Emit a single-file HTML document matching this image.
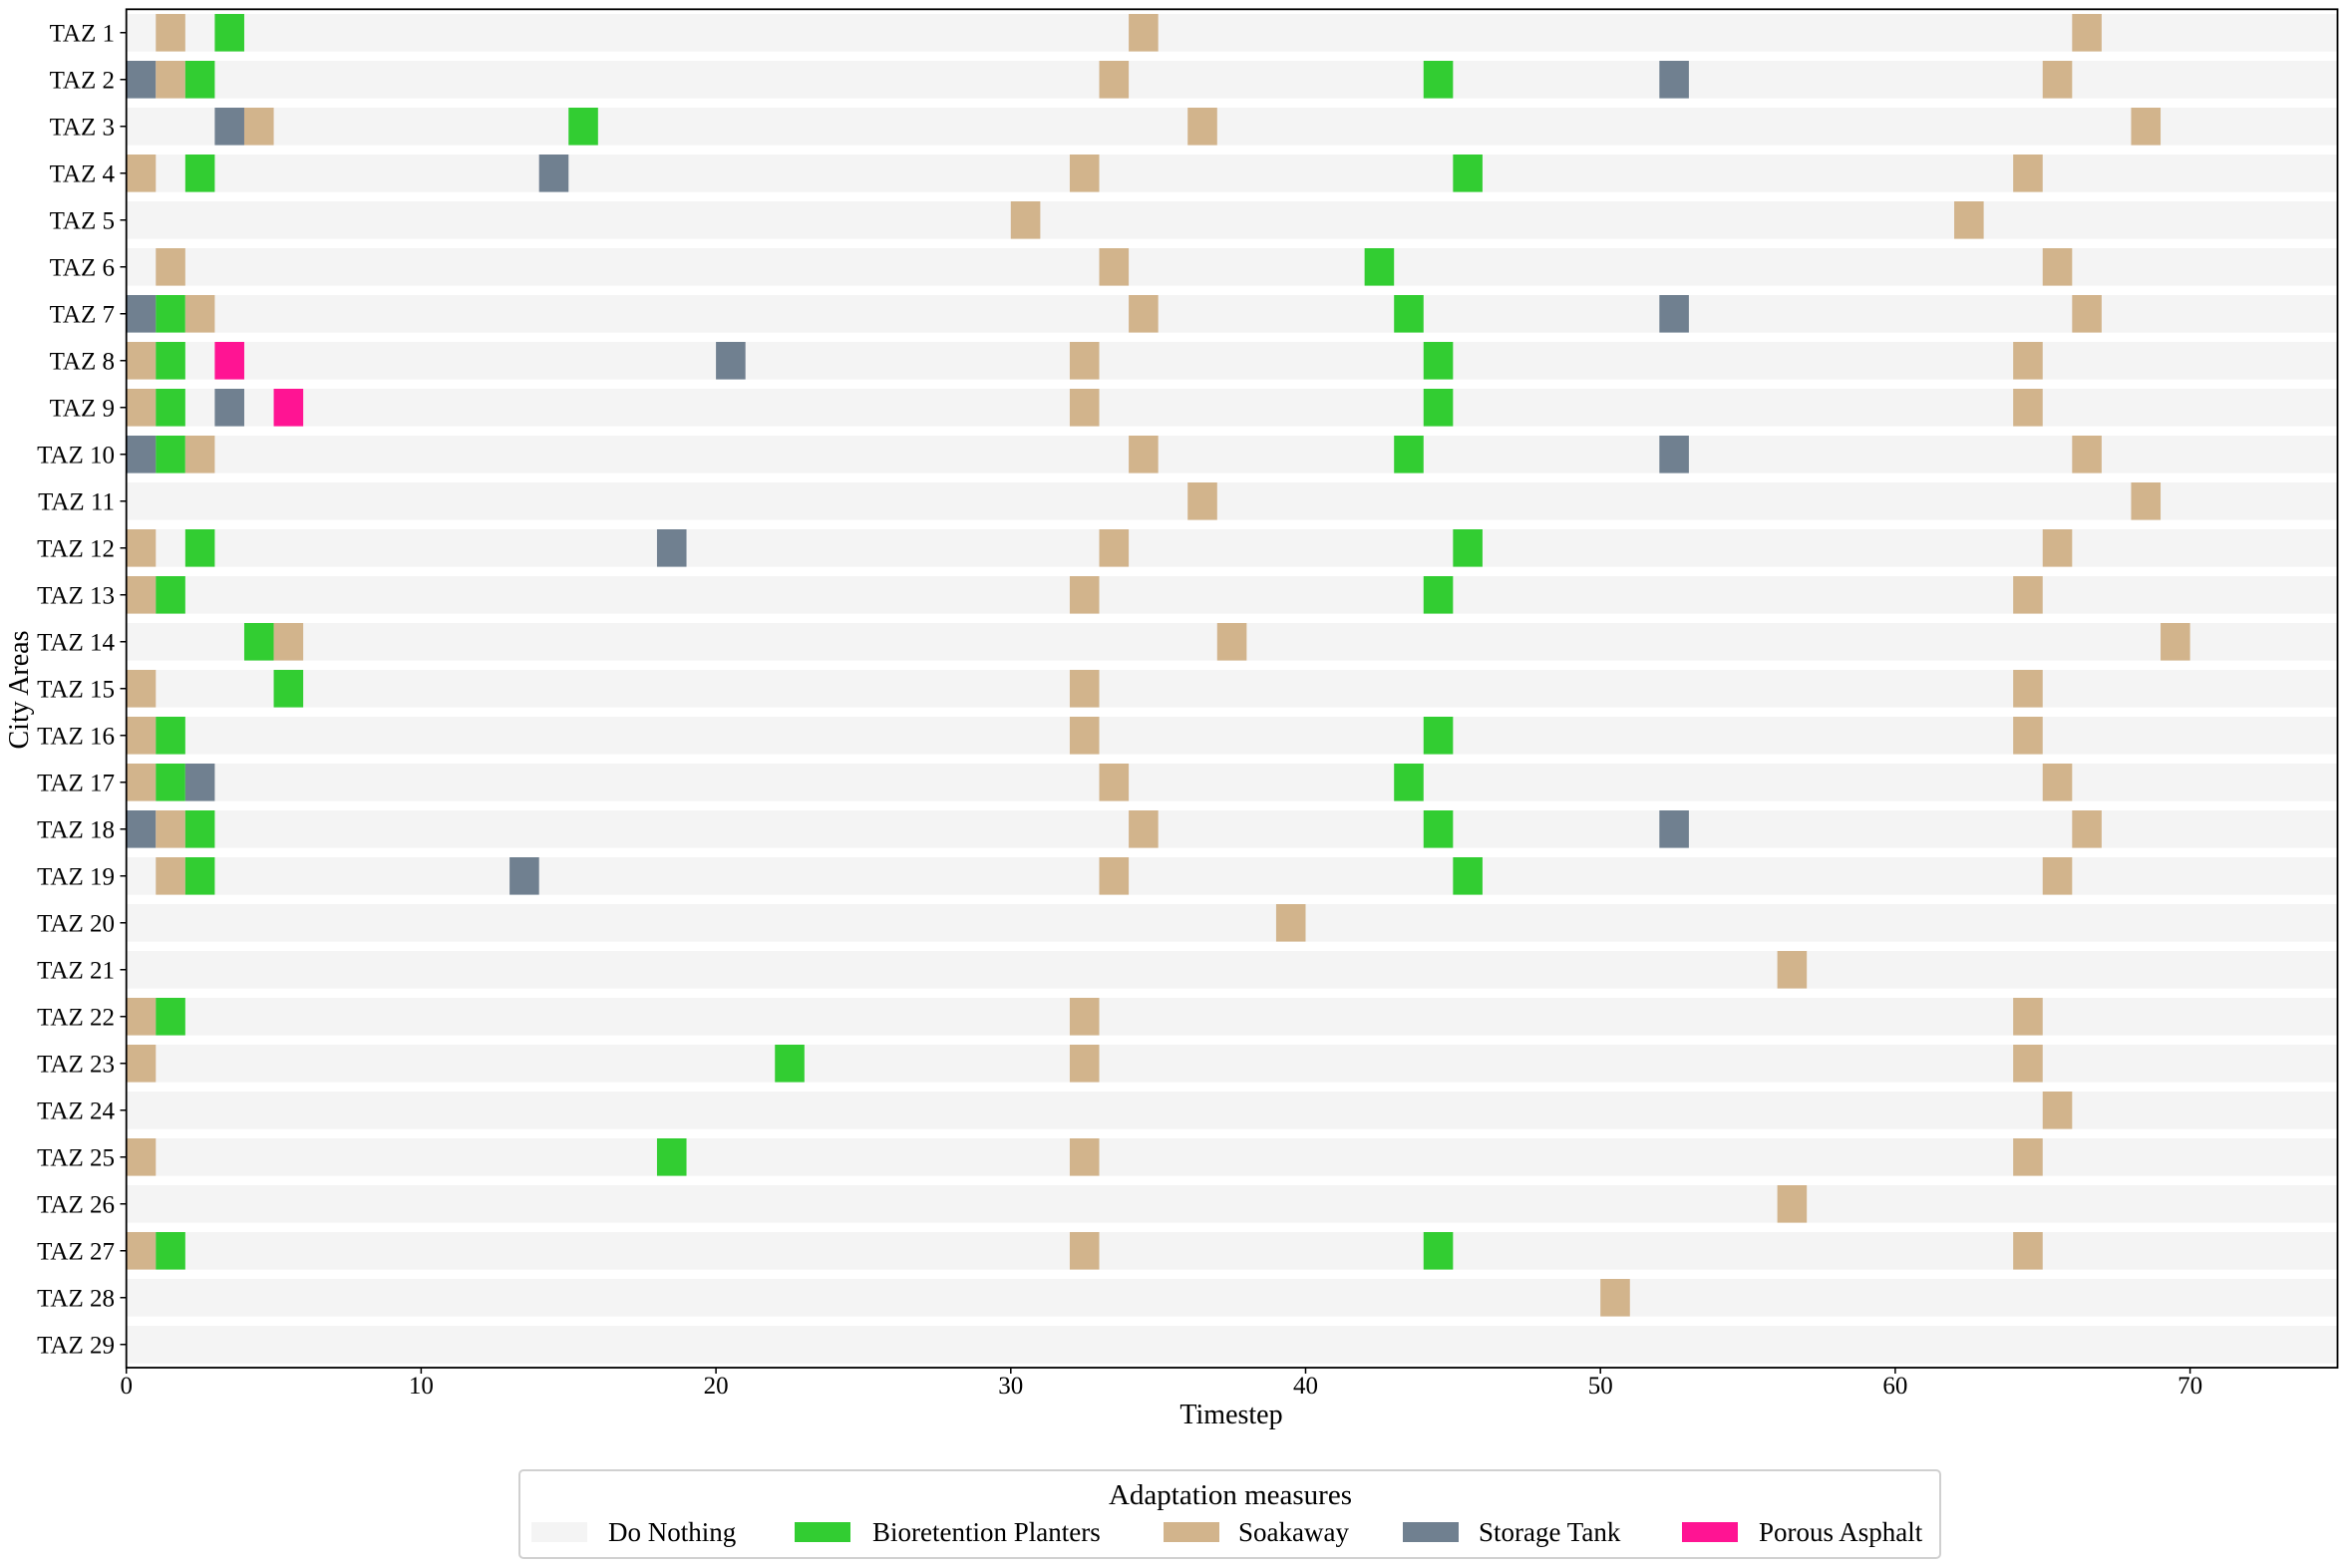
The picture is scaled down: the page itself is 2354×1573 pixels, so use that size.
<!DOCTYPE html>
<html><head><meta charset="utf-8"><style>
html,body{margin:0;padding:0;background:#fff}
svg{display:block}
text{font-family:"Liberation Serif",serif;fill:#000}
.b{fill:#f4f4f4}.g{fill:#32cd32}.s{fill:#d2b48c}.t{fill:#708090}.p{fill:#ff1493}
</style></head><body>
<svg width="2354" height="1573" viewBox="0 0 2354 1573" xmlns="http://www.w3.org/2000/svg">
<g transform="translate(126.7,32.8) scale(29.57,47)">
<g class="b">
<rect x="0" y="-0.4" width="75" height="0.8"/><rect x="0" y="0.6" width="75" height="0.8"/><rect x="0" y="1.6" width="75" height="0.8"/><rect x="0" y="2.6" width="75" height="0.8"/><rect x="0" y="3.6" width="75" height="0.8"/><rect x="0" y="4.6" width="75" height="0.8"/><rect x="0" y="5.6" width="75" height="0.8"/><rect x="0" y="6.6" width="75" height="0.8"/><rect x="0" y="7.6" width="75" height="0.8"/><rect x="0" y="8.6" width="75" height="0.8"/><rect x="0" y="9.6" width="75" height="0.8"/><rect x="0" y="10.6" width="75" height="0.8"/><rect x="0" y="11.6" width="75" height="0.8"/><rect x="0" y="12.6" width="75" height="0.8"/><rect x="0" y="13.6" width="75" height="0.8"/><rect x="0" y="14.6" width="75" height="0.8"/><rect x="0" y="15.6" width="75" height="0.8"/><rect x="0" y="16.6" width="75" height="0.8"/><rect x="0" y="17.6" width="75" height="0.8"/><rect x="0" y="18.6" width="75" height="0.8"/><rect x="0" y="19.6" width="75" height="0.8"/><rect x="0" y="20.6" width="75" height="0.8"/><rect x="0" y="21.6" width="75" height="0.8"/><rect x="0" y="22.6" width="75" height="0.8"/><rect x="0" y="23.6" width="75" height="0.8"/><rect x="0" y="24.6" width="75" height="0.8"/><rect x="0" y="25.6" width="75" height="0.8"/><rect x="0" y="26.6" width="75" height="0.8"/><rect x="0" y="27.6" width="75" height="0.8"/>
</g>
<rect class="s" x="1" y="-0.4" width="1" height="0.8"/><rect class="g" x="3" y="-0.4" width="1" height="0.8"/><rect class="s" x="34" y="-0.4" width="1" height="0.8"/><rect class="s" x="66" y="-0.4" width="1" height="0.8"/>
<rect class="t" x="0" y="0.6" width="1" height="0.8"/><rect class="s" x="1" y="0.6" width="1" height="0.8"/><rect class="g" x="2" y="0.6" width="1" height="0.8"/><rect class="s" x="33" y="0.6" width="1" height="0.8"/><rect class="g" x="44" y="0.6" width="1" height="0.8"/><rect class="t" x="52" y="0.6" width="1" height="0.8"/><rect class="s" x="65" y="0.6" width="1" height="0.8"/>
<rect class="t" x="3" y="1.6" width="1" height="0.8"/><rect class="s" x="4" y="1.6" width="1" height="0.8"/><rect class="g" x="15" y="1.6" width="1" height="0.8"/><rect class="s" x="36" y="1.6" width="1" height="0.8"/><rect class="s" x="68" y="1.6" width="1" height="0.8"/>
<rect class="s" x="0" y="2.6" width="1" height="0.8"/><rect class="g" x="2" y="2.6" width="1" height="0.8"/><rect class="t" x="14" y="2.6" width="1" height="0.8"/><rect class="s" x="32" y="2.6" width="1" height="0.8"/><rect class="g" x="45" y="2.6" width="1" height="0.8"/><rect class="s" x="64" y="2.6" width="1" height="0.8"/>
<rect class="s" x="30" y="3.6" width="1" height="0.8"/><rect class="s" x="62" y="3.6" width="1" height="0.8"/>
<rect class="s" x="1" y="4.6" width="1" height="0.8"/><rect class="s" x="33" y="4.6" width="1" height="0.8"/><rect class="g" x="42" y="4.6" width="1" height="0.8"/><rect class="s" x="65" y="4.6" width="1" height="0.8"/>
<rect class="t" x="0" y="5.6" width="1" height="0.8"/><rect class="g" x="1" y="5.6" width="1" height="0.8"/><rect class="s" x="2" y="5.6" width="1" height="0.8"/><rect class="s" x="34" y="5.6" width="1" height="0.8"/><rect class="g" x="43" y="5.6" width="1" height="0.8"/><rect class="t" x="52" y="5.6" width="1" height="0.8"/><rect class="s" x="66" y="5.6" width="1" height="0.8"/>
<rect class="s" x="0" y="6.6" width="1" height="0.8"/><rect class="g" x="1" y="6.6" width="1" height="0.8"/><rect class="p" x="3" y="6.6" width="1" height="0.8"/><rect class="t" x="20" y="6.6" width="1" height="0.8"/><rect class="s" x="32" y="6.6" width="1" height="0.8"/><rect class="g" x="44" y="6.6" width="1" height="0.8"/><rect class="s" x="64" y="6.6" width="1" height="0.8"/>
<rect class="s" x="0" y="7.6" width="1" height="0.8"/><rect class="g" x="1" y="7.6" width="1" height="0.8"/><rect class="t" x="3" y="7.6" width="1" height="0.8"/><rect class="p" x="5" y="7.6" width="1" height="0.8"/><rect class="s" x="32" y="7.6" width="1" height="0.8"/><rect class="g" x="44" y="7.6" width="1" height="0.8"/><rect class="s" x="64" y="7.6" width="1" height="0.8"/>
<rect class="t" x="0" y="8.6" width="1" height="0.8"/><rect class="g" x="1" y="8.6" width="1" height="0.8"/><rect class="s" x="2" y="8.6" width="1" height="0.8"/><rect class="s" x="34" y="8.6" width="1" height="0.8"/><rect class="g" x="43" y="8.6" width="1" height="0.8"/><rect class="t" x="52" y="8.6" width="1" height="0.8"/><rect class="s" x="66" y="8.6" width="1" height="0.8"/>
<rect class="s" x="36" y="9.6" width="1" height="0.8"/><rect class="s" x="68" y="9.6" width="1" height="0.8"/>
<rect class="s" x="0" y="10.6" width="1" height="0.8"/><rect class="g" x="2" y="10.6" width="1" height="0.8"/><rect class="t" x="18" y="10.6" width="1" height="0.8"/><rect class="s" x="33" y="10.6" width="1" height="0.8"/><rect class="g" x="45" y="10.6" width="1" height="0.8"/><rect class="s" x="65" y="10.6" width="1" height="0.8"/>
<rect class="s" x="0" y="11.6" width="1" height="0.8"/><rect class="g" x="1" y="11.6" width="1" height="0.8"/><rect class="s" x="32" y="11.6" width="1" height="0.8"/><rect class="g" x="44" y="11.6" width="1" height="0.8"/><rect class="s" x="64" y="11.6" width="1" height="0.8"/>
<rect class="g" x="4" y="12.6" width="1" height="0.8"/><rect class="s" x="5" y="12.6" width="1" height="0.8"/><rect class="s" x="37" y="12.6" width="1" height="0.8"/><rect class="s" x="69" y="12.6" width="1" height="0.8"/>
<rect class="s" x="0" y="13.6" width="1" height="0.8"/><rect class="g" x="5" y="13.6" width="1" height="0.8"/><rect class="s" x="32" y="13.6" width="1" height="0.8"/><rect class="s" x="64" y="13.6" width="1" height="0.8"/>
<rect class="s" x="0" y="14.6" width="1" height="0.8"/><rect class="g" x="1" y="14.6" width="1" height="0.8"/><rect class="s" x="32" y="14.6" width="1" height="0.8"/><rect class="g" x="44" y="14.6" width="1" height="0.8"/><rect class="s" x="64" y="14.6" width="1" height="0.8"/>
<rect class="s" x="0" y="15.6" width="1" height="0.8"/><rect class="g" x="1" y="15.6" width="1" height="0.8"/><rect class="t" x="2" y="15.6" width="1" height="0.8"/><rect class="s" x="33" y="15.6" width="1" height="0.8"/><rect class="g" x="43" y="15.6" width="1" height="0.8"/><rect class="s" x="65" y="15.6" width="1" height="0.8"/>
<rect class="t" x="0" y="16.6" width="1" height="0.8"/><rect class="s" x="1" y="16.6" width="1" height="0.8"/><rect class="g" x="2" y="16.6" width="1" height="0.8"/><rect class="s" x="34" y="16.6" width="1" height="0.8"/><rect class="g" x="44" y="16.6" width="1" height="0.8"/><rect class="t" x="52" y="16.6" width="1" height="0.8"/><rect class="s" x="66" y="16.6" width="1" height="0.8"/>
<rect class="s" x="1" y="17.6" width="1" height="0.8"/><rect class="g" x="2" y="17.6" width="1" height="0.8"/><rect class="t" x="13" y="17.6" width="1" height="0.8"/><rect class="s" x="33" y="17.6" width="1" height="0.8"/><rect class="g" x="45" y="17.6" width="1" height="0.8"/><rect class="s" x="65" y="17.6" width="1" height="0.8"/>
<rect class="s" x="39" y="18.6" width="1" height="0.8"/>
<rect class="s" x="56" y="19.6" width="1" height="0.8"/>
<rect class="s" x="0" y="20.6" width="1" height="0.8"/><rect class="g" x="1" y="20.6" width="1" height="0.8"/><rect class="s" x="32" y="20.6" width="1" height="0.8"/><rect class="s" x="64" y="20.6" width="1" height="0.8"/>
<rect class="s" x="0" y="21.6" width="1" height="0.8"/><rect class="g" x="22" y="21.6" width="1" height="0.8"/><rect class="s" x="32" y="21.6" width="1" height="0.8"/><rect class="s" x="64" y="21.6" width="1" height="0.8"/>
<rect class="s" x="65" y="22.6" width="1" height="0.8"/>
<rect class="s" x="0" y="23.6" width="1" height="0.8"/><rect class="g" x="18" y="23.6" width="1" height="0.8"/><rect class="s" x="32" y="23.6" width="1" height="0.8"/><rect class="s" x="64" y="23.6" width="1" height="0.8"/>
<rect class="s" x="56" y="24.6" width="1" height="0.8"/>
<rect class="s" x="0" y="25.6" width="1" height="0.8"/><rect class="g" x="1" y="25.6" width="1" height="0.8"/><rect class="s" x="32" y="25.6" width="1" height="0.8"/><rect class="g" x="44" y="25.6" width="1" height="0.8"/><rect class="s" x="64" y="25.6" width="1" height="0.8"/>
<rect class="s" x="50" y="26.6" width="1" height="0.8"/>
</g>
<rect x="126.7" y="9.3" width="2217.8" height="1362.7" fill="none" stroke="#000" stroke-width="1.8"/>
<g stroke="#000" stroke-width="1.5">
<path d="M120.5 32.8h6M120.5 79.8h6M120.5 126.8h6M120.5 173.8h6M120.5 220.8h6M120.5 267.8h6M120.5 314.8h6M120.5 361.8h6M120.5 408.8h6M120.5 455.8h6M120.5 502.8h6M120.5 549.8h6M120.5 596.8h6M120.5 643.8h6M120.5 690.8h6M120.5 737.8h6M120.5 784.8h6M120.5 831.8h6M120.5 878.8h6M120.5 925.8h6M120.5 972.8h6M120.5 1019.8h6M120.5 1066.8h6M120.5 1113.8h6M120.5 1160.8h6M120.5 1207.8h6M120.5 1254.8h6M120.5 1301.8h6M120.5 1348.8h6"/>
<path d="M126.7 1372v6M422.4 1372v6M718.1 1372v6M1013.8 1372v6M1309.5 1372v6M1605.2 1372v6M1900.9 1372v6M2196.6 1372v6"/>
</g>
<g font-size="25" text-anchor="end">
<text x="115" y="41.3">TAZ 1</text><text x="115" y="88.3">TAZ 2</text><text x="115" y="135.3">TAZ 3</text><text x="115" y="182.3">TAZ 4</text><text x="115" y="229.3">TAZ 5</text><text x="115" y="276.3">TAZ 6</text><text x="115" y="323.3">TAZ 7</text><text x="115" y="370.3">TAZ 8</text><text x="115" y="417.3">TAZ 9</text><text x="115" y="464.3">TAZ 10</text><text x="115" y="511.3">TAZ 11</text><text x="115" y="558.3">TAZ 12</text><text x="115" y="605.3">TAZ 13</text><text x="115" y="652.3">TAZ 14</text><text x="115" y="699.3">TAZ 15</text><text x="115" y="746.3">TAZ 16</text><text x="115" y="793.3">TAZ 17</text><text x="115" y="840.3">TAZ 18</text><text x="115" y="887.3">TAZ 19</text><text x="115" y="934.3">TAZ 20</text><text x="115" y="981.3">TAZ 21</text><text x="115" y="1028.3">TAZ 22</text><text x="115" y="1075.3">TAZ 23</text><text x="115" y="1122.3">TAZ 24</text><text x="115" y="1169.3">TAZ 25</text><text x="115" y="1216.3">TAZ 26</text><text x="115" y="1263.3">TAZ 27</text><text x="115" y="1310.3">TAZ 28</text><text x="115" y="1357.3">TAZ 29</text>
</g>
<g font-size="25" text-anchor="middle">
<text x="126.7" y="1398">0</text><text x="422.4" y="1398">10</text><text x="718.1" y="1398">20</text><text x="1013.8" y="1398">30</text><text x="1309.5" y="1398">40</text><text x="1605.2" y="1398">50</text><text x="1900.9" y="1398">60</text><text x="2196.6" y="1398">70</text>
<text x="1235" y="1428" font-size="28">Timestep</text>
<text transform="translate(28,692) rotate(-90)" font-size="28">City Areas</text>
</g>
<rect x="521" y="1475" width="1425" height="88" rx="4" fill="#fff" stroke="#d0d0d0" stroke-width="2"/>
<text x="1234" y="1509" font-size="29" text-anchor="middle">Adaptation measures</text>
<rect class="b" x="533" y="1527" width="56" height="20"/>
<rect class="g" x="797" y="1527" width="56" height="20"/>
<rect class="s" x="1167" y="1527" width="56" height="20"/>
<rect class="t" x="1407" y="1527" width="56" height="20"/>
<rect class="p" x="1687" y="1527" width="56" height="20"/>
<g font-size="27">
<text x="610" y="1546">Do Nothing</text>
<text x="875" y="1546">Bioretention Planters</text>
<text x="1242" y="1546">Soakaway</text>
<text x="1483" y="1546">Storage Tank</text>
<text x="1764" y="1546">Porous Asphalt</text>
</g>
</svg>
</body></html>
